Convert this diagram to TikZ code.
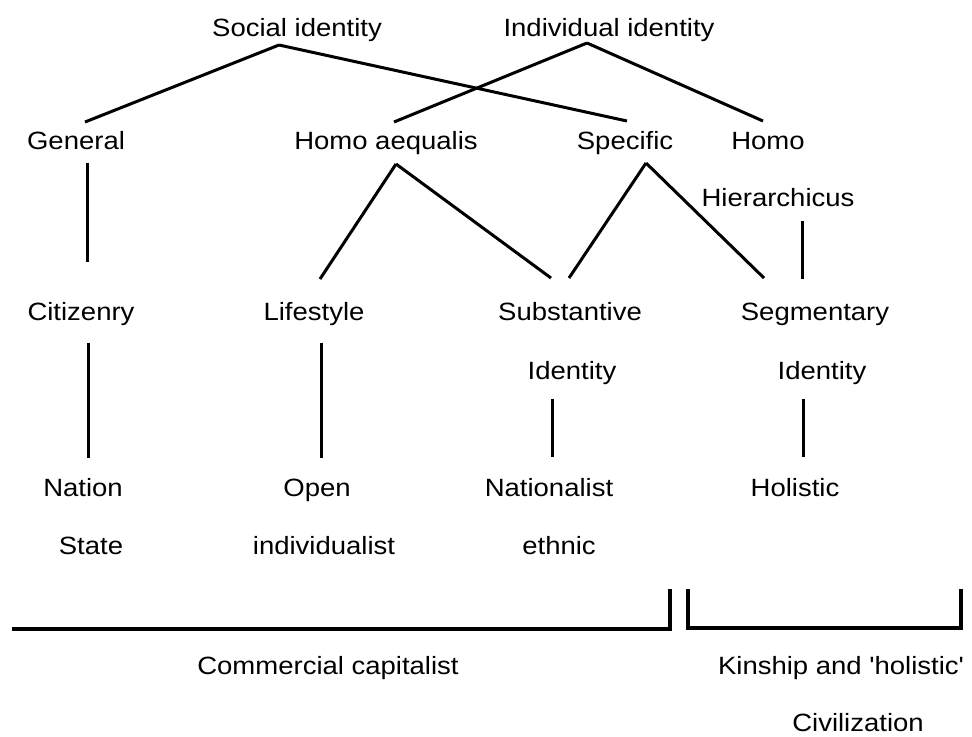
\documentclass[tikz,border=0pt]{standalone}
\usepackage{fontspec}
\setmainfont{Liberation Sans}
\newfontfamily\idfont[FakeStretch=1.1]{Liberation Sans}

\begin{document}
\begin{tikzpicture}[x=0.5pt,y=-0.5pt,line width=1.5pt,main node/.style={anchor=base,inner sep=0pt,font=\fontsize{12.5}{15}\idfont}]
                        \useasboundingbox (0,0) rectangle (972,736);

                        % top row
                        \node[main node] (social) at (297,36) {Social identity};
                        \node[main node] (indiv) at (609,36) {Individual identity};
                        % second row
                        \node[main node] (general) at (76,149) {General};
                        \node[main node] (aequalis) at (386,149) {Homo aequalis};
                        \node[main node] (specific) at (625,149) {Specific};
                        \node[main node] (homo) at (768,149) {Homo};
                        \node[main node] (hier) at (778,206) {Hierarchicus};
                        % third row
                        \node[main node] (citizen) at (81,320) {Citizenry};
                        \node[main node] (lifestyle) at (314,320) {Lifestyle};
                        \node[main node] (subst) at (570,320) {Substantive};
                        \node[main node] (segment) at (815,320) {Segmentary};
                        \node[main node] (subid) at (572,379) {Identity};
                        \node[main node] (segid) at (822,379) {Identity};
                        % fourth row
                        \node[main node] (nation) at (83,496) {Nation};
                        \node[main node] (state) at (91,554) {State};
                        \node[main node] (open) at (317,496) {Open};
                        \node[main node] (indivist) at (324,554) {individualist};
                        \node[main node] (nationalist) at (549,496) {Nationalist};
                        \node[main node] (ethnic) at (559,554) {ethnic};
                        \node[main node] (holistic) at (795,496) {Holistic};
                        % bottom
                        \node[main node] (commercial) at (328,674) {Commercial capitalist};
                        \node[main node] (kinship) at (841,674) {Kinship and 'holistic'};
                        \node[main node] (civil) at (858,731) {Civilization};

                        \path
                            ([shift={(-18,9)}]social.base) edge ([shift={(9,-27)}]general.base)
                            ([shift={(-18,9)}]social.base) edge ([shift={(2,-28)}]specific.base)
                            ([shift={(-22,7)}]indiv.base) edge ([shift={(8,-27)}]aequalis.base)
                            ([shift={(-22,7)}]indiv.base) edge ([shift={(-5,-28)}]homo.base)

                            ([shift={(10,15)}]aequalis.base) edge ([shift={(6,-41)}]lifestyle.base)
                            ([shift={(10,15)}]aequalis.base) edge ([shift={(-19,-42)}]subst.base)
                            ([shift={(21,14)}]specific.base) edge ([shift={(-1,-42)}]subst.base)
                            ([shift={(21,14)}]specific.base) edge ([shift={(-51,-42)}]segment.base)
                        ;

                        \path
                            ([shift={(11,14)}]general.base) edge ([shift={(6,-58)}]citizen.base)
                            ([shift={(24,15)}]hier.base) edge ([shift={(-13,-41)}]segment.base)
                            ([shift={(7,23)}]citizen.base) edge ([shift={(5,-38)}]nation.base)
                            ([shift={(7,23)}]lifestyle.base) edge ([shift={(4,-38)}]open.base)
                            ([shift={(-20,20)}]subid.base) edge ([shift={(3,-39)}]nationalist.base)
                            ([shift={(-19,20)}]segid.base) edge ([shift={(8,-39)}]holistic.base)
                        ;

                        % brackets
                        \draw[line width=1.8pt] (12,629) -- (670,629) -- (670,589);
                        \draw[line width=1.8pt] (688,589) -- (688,628) -- (961,628) -- (961,589);

                    \end{tikzpicture}
\end{document}
